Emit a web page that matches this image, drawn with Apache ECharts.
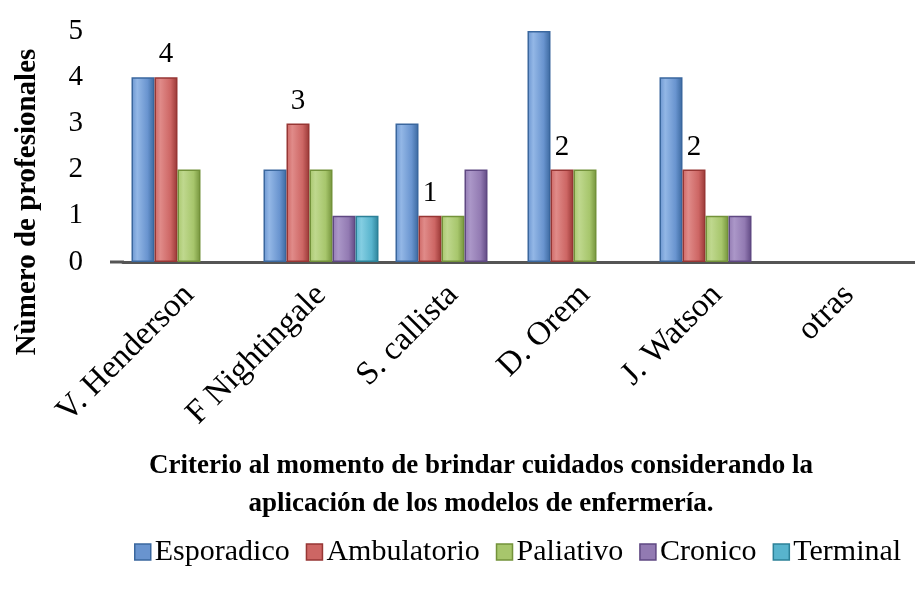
<!DOCTYPE html>
<html>
<head>
<meta charset="utf-8">
<style>
  html, body { margin: 0; padding: 0; background: #fff; }
  #chart { width: 915px; height: 589px; }
</style>
<script src="https://cdn.jsdelivr.net/npm/echarts@6/dist/echarts.min.js"></script>
</head>
<body>
<div id="chart"></div>
<script>
// Nursing models used as criteria, counts of professionals per type of care
const categories = ['V. Henderson', 'F Nightingale', 'S. callista', 'D. Orem', 'J. Watson', 'otras'];
const seriesNames = ['Esporadico', 'Ambulatorio', 'Paliativo', 'Cronico', 'Terminal'];
const esporadico  = [4, 2, 3, 5, 4, 0];
const ambulatorio = [4, 3, 1, 2, 2, 0];
const paliativo   = [2, 2, 1, 2, 1, 0];
const cronico     = [0, 1, 2, 0, 1, 0];
const terminal    = [0, 1, 0, 0, 0, 0];
const yTicks = [0, 1, 2, 3, 4, 5];

const FONT = '"Liberation Serif", "Times New Roman", serif';

// face colour, light highlight, dark edge for each series
const palette = [
  { face: '#6994cf', light: '#93b7e6', edge: '#3a679e' },
  { face: '#cd6664', light: '#e08b89', edge: '#973634' },
  { face: '#a7c66c', light: '#bfd88e', edge: '#73923a' },
  { face: '#927ab2', light: '#ab97c8', edge: '#5f4882' },
  { face: '#58b4cd', light: '#84cee2', edge: '#2c8198' }
];

const seriesData = [esporadico, ambulatorio, paliativo, cronico, terminal];

const series = seriesData.map((vals, i) => {
  const c = palette[i];
  return {
    name: seriesNames[i],
    type: 'bar',
    barWidth: 23,
    barGap: '0%',
    // empty values leave no mark on the floor
    data: vals.map(v => (v === 0 ? '-' : v)),
    itemStyle: {
      color: {
        type: 'linear', x: 0, y: 0, x2: 1, y2: 0,
        colorStops: [
          { offset: 0, color: c.face },
          { offset: 0.25, color: c.light },
          { offset: 0.7, color: c.face },
          { offset: 1, color: c.edge }
        ]
      },
      borderColor: c.edge,
      borderWidth: 1.5
    },
    label: i === 1 ? {
      show: true,
      position: 'top',
      distance: 8,
      color: '#000',
      fontFamily: FONT,
      fontSize: 29,
      formatter: p => String(p.value)
    } : { show: false }
  };
});

const GRID_LEFT = 123;
const FLOOR_START = 110;

const chart = echarts.init(document.getElementById('chart'), null, { renderer: 'canvas' });
chart.setOption({
  animation: false,
  backgroundColor: '#ffffff',
  color: palette.map(c => c.face),
  title: {
    text: 'Criterio al momento de brindar cuidados considerando la\naplicación de los modelos de enfermería.',
    left: 476,
    top: 442,
    textAlign: 'center',
    textStyle: {
      fontFamily: FONT,
      fontWeight: 'bold',
      fontSize: 27,
      lineHeight: 38,
      color: '#000'
    }
  },
  legend: {
    bottom: 22,
    left: 134,
    padding: 0,
    width: 781,
    itemWidth: 16,
    itemHeight: 16,
    itemGap: 16,
    icon: 'rect',
    textStyle: { fontFamily: FONT, fontSize: 30, color: '#000', padding: [0, 0, 0, -1] },
    data: seriesNames.map((n, i) => ({
      name: n,
      itemStyle: { color: palette[i].face, borderColor: palette[i].edge, borderWidth: 1.5 }
    }))
  },
  grid: { left: GRID_LEFT, right: 0, top: 31, bottom: 327, containLabel: false },
  xAxis: {
    type: 'category',
    data: categories,
    axisLine: { show: true, lineStyle: { color: '#555', width: 3 } },
    axisTick: { show: false },
    axisLabel: {
      rotate: 45,
      margin: 28,
      fontFamily: FONT,
      fontSize: 33,
      color: '#000',
      interval: 0
    }
  },
  yAxis: {
    type: 'value',
    min: yTicks[0],
    max: yTicks[yTicks.length - 1],
    interval: 1,
    axisLine: { show: false },
    axisTick: { show: false },
    splitLine: { show: false },
    axisLabel: {
      margin: 40,
      fontFamily: FONT,
      fontSize: 29,
      color: '#000'
    }
  },
  graphic: [{
    type: 'text',
    x: 28,
    y: 202,
    rotation: Math.PI / 2,
    style: {
      text: 'Nùmero de profesionales',
      fontFamily: FONT,
      fontWeight: 'bold',
      fontSize: 29,
      fill: '#000',
      textAlign: 'center',
      textVerticalAlign: 'middle'
    }
  }],
  series: series
});

// the floor line runs a little past the left edge of the plot
const floorY = chart.convertToPixel({ yAxisIndex: 0 }, 0);
chart.setOption({
  graphic: [{
    id: 'floor-ext',
    type: 'line',
    shape: { x1: FLOOR_START, y1: floorY, x2: GRID_LEFT + 1, y2: floorY },
    style: { stroke: '#555', lineWidth: 3 }
  }]
});
</script>
</body>
</html>
